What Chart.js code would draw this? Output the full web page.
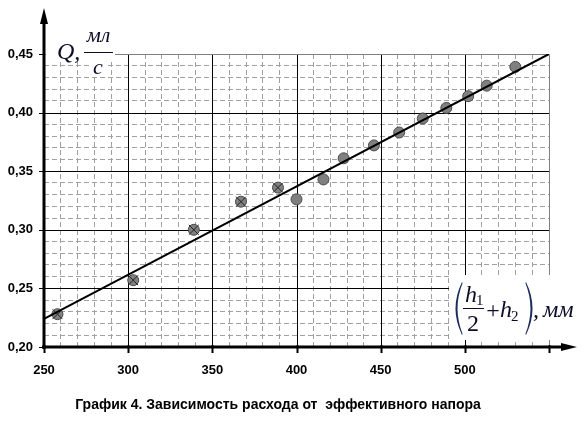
<!DOCTYPE html>
<html lang="ru">
<head>
<meta charset="utf-8">
<title>График 4</title>
<style>
  html, body { margin: 0; padding: 0; background: #fff; }
  canvas { display: block; }
</style>
</head>
<body>
<canvas id="canvas" width="586" height="427"></canvas>
<script src="https://cdn.jsdelivr.net/npm/chart.js"></script>
<script>
// effective head (mm) and flow (ml/s)
const headMm = [258, 303, 339, 367, 389, 400, 416, 428, 446, 461, 475, 489, 502, 513, 530];
const flowMl = [0.228, 0.257, 0.300, 0.324, 0.336, 0.326, 0.343, 0.361, 0.372, 0.383, 0.395, 0.404, 0.414, 0.423, 0.439];
const crossedCount = 5; // first points are drawn crossed out
// fitted straight line, end points
const fitHead = [250, 550];
const fitFlow = [0.224, 0.450];
// axis labels
const xMajor = [250, 300, 350, 400, 450, 500, 550];
const yMajor = [0.20, 0.25, 0.30, 0.35, 0.40, 0.45];
const caption = 'График 4. Зависимость расхода от  эффективного напора';

const SERIF = '"Liberation Serif", "Times New Roman", serif';
const SANS = '"Liberation Sans", Arial, sans-serif';
const INK = '#0c0c28';

const pts = headMm.map((h, i) => ({x: h, y: flowMl[i]}));
const fitPts = fitHead.map((h, i) => ({x: h, y: fitFlow[i]}));

const isMajorX = v => Math.round(v) % 50 === 0;
const isMajorY = v => Math.round(v * 100) % 5 === 0;

// thin tall bracket, dir = 1 for "(", -1 for ")"
function bracket(ctx, xEdge, top, bottom, dir) {
  const mid = (top + bottom) / 2;
  ctx.beginPath();
  ctx.moveTo(xEdge, top);
  ctx.quadraticCurveTo(xEdge - dir * 13, mid, xEdge, bottom);
  ctx.lineTo(xEdge + dir * 0.6, bottom - 1);
  ctx.quadraticCurveTo(xEdge - dir * 9.5, mid, xEdge + dir * 0.6, top + 1);
  ctx.closePath();
  ctx.fill();
}

const decor = {
  id: 'decor',
  beforeDatasetsDraw(chart) {
    const {ctx, chartArea: a, scales: {x, y}} = chart;
    ctx.save();
    ctx.lineWidth = 1;
    // major grid
    ctx.strokeStyle = '#000';
    ctx.beginPath();
    xMajor.forEach(v => {
      if (v <= 250 || v >= 550) return;
      const px = Math.round(x.getPixelForValue(v)) + 0.5;
      ctx.moveTo(px, a.top); ctx.lineTo(px, a.bottom);
    });
    yMajor.forEach(v => {
      if (v <= 0.2 || v >= 0.45) return;
      const py = Math.round(y.getPixelForValue(v)) + 0.5;
      ctx.moveTo(a.left, py); ctx.lineTo(a.right, py);
    });
    ctx.stroke();
    // frame top / right
    ctx.strokeStyle = '#808080';
    ctx.beginPath();
    const top = Math.round(y.getPixelForValue(0.45)) + 0.5;
    const right = Math.round(x.getPixelForValue(550)) + 0.5;
    ctx.moveTo(a.left, top); ctx.lineTo(right, top); ctx.lineTo(right, a.bottom);
    ctx.stroke();
    // white boxes behind the axis titles
    ctx.fillStyle = '#fff';
    ctx.fillRect(46, 20, 69, 41);
    ctx.fillRect(91, 61, 16, 16);
    ctx.fillRect(449, 275, 137, 65);
    ctx.restore();
  },
  afterDraw(chart) {
    const {ctx, chartArea: a, scales: {x, y}} = chart;
    ctx.save();
    const ax = a.left, ay = a.bottom;
    // tick marks
    ctx.strokeStyle = '#000';
    ctx.lineWidth = 1;
    ctx.beginPath();
    yMajor.forEach(v => {
      const py = Math.round(y.getPixelForValue(v)) + 0.5;
      ctx.moveTo(ax - 5, py); ctx.lineTo(ax, py);
    });
    ctx.stroke();
    ctx.lineWidth = 2;
    ctx.beginPath();
    xMajor.forEach(v => {
      const px = Math.round(x.getPixelForValue(v)) + 0.5;
      ctx.moveTo(px, ay - 2); ctx.lineTo(px, ay + 6);
    });
    ctx.stroke();
    // axes with arrows
    ctx.lineWidth = 3;
    ctx.beginPath();
    ctx.moveTo(ax, ay + 2); ctx.lineTo(ax, 18);
    ctx.moveTo(ax - 2, ay); ctx.lineTo(566, ay);
    ctx.stroke();
    ctx.fillStyle = '#000';
    ctx.beginPath();
    ctx.moveTo(ax, 8); ctx.lineTo(ax - 4, 24); ctx.lineTo(ax + 4, 24); ctx.closePath();
    ctx.moveTo(577, ay); ctx.lineTo(561, ay - 4); ctx.lineTo(561, ay + 4); ctx.closePath();
    ctx.fill();

    // y title: Q, мл/с
    ctx.fillStyle = INK;
    ctx.textBaseline = 'alphabetic';
    ctx.textAlign = 'left';
    ctx.font = 'italic 24px ' + SERIF;
    ctx.fillText('Q,', 57, 59);
    ctx.textAlign = 'center';
    ctx.font = 'italic 22px ' + SERIF;
    ctx.fillText('мл', 98.5, 42);
    ctx.fillText('с', 98, 74);
    ctx.fillRect(84, 52, 29, 1);

    // x title: (h1/2 + h2), мм
    ctx.fillStyle = '#1c2c5c';
    bracket(ctx, 462, 282, 335, 1);
    bracket(ctx, 526, 282, 335, -1);
    ctx.fillStyle = INK;
    ctx.textAlign = 'left';
    ctx.font = 'italic 24px ' + SERIF;
    const hw = ctx.measureText('h').width;
    ctx.fillText('h', 465, 302);
    ctx.fillText('h', 500, 317);
    ctx.font = '15px ' + SERIF;
    ctx.fillText('1', 465 + hw - 1, 305);
    ctx.fillText('2', 500 + hw - 1, 321);
    ctx.fillRect(463, 308, 21, 1);
    ctx.textAlign = 'center';
    ctx.font = '24px ' + SERIF;
    ctx.fillText('2', 473, 331);
    ctx.fillText('+', 493, 318);
    ctx.textAlign = 'left';
    ctx.font = 'italic 24px ' + SERIF;
    ctx.fillText(',', 533, 317);
    ctx.fillText('мм', 543, 317);

    // caption
    ctx.fillStyle = '#000';
    ctx.textAlign = 'center';
    ctx.font = 'bold 14px ' + SANS;
    ctx.fillText(caption, 278, 409);
    ctx.restore();
  }
};

new Chart(document.getElementById('canvas'), {
  type: 'scatter',
  data: {
    datasets: [
      {
        type: 'line',
        data: fitPts,
        borderColor: '#000',
        borderWidth: 2,
        pointRadius: 0,
        fill: false
      },
      {
        data: pts.slice(0, crossedCount),
        pointStyle: 'crossRot',
        pointRadius: 7,
        borderColor: '#222',
        borderWidth: 1
      },
      {
        data: pts,
        pointStyle: 'circle',
        pointRadius: 5.5,
        backgroundColor: '#808080',
        borderColor: '#4a4a4a',
        borderWidth: 1
      }
    ]
  },
  options: {
    responsive: false,
    animation: false,
    devicePixelRatio: 1,
    layout: { padding: { top: 54, right: 37, left: 0, bottom: 0 } },
    plugins: { legend: { display: false }, tooltip: { enabled: false } },
    scales: {
      x: {
        type: 'linear',
        min: 250, max: 550,
        afterFit: s => { s.height = 80; },
        border: { display: false, dash: [5, 3] },
        grid: {
          drawTicks: false,
          color: c => isMajorX(c.tick.value) ? 'rgba(0,0,0,0)' : '#a0a0a0'
        },
        ticks: {
          stepSize: 10,
          autoSkip: false,
          maxRotation: 0,
          padding: 16,
          color: '#000',
          font: { family: SANS, size: 13, weight: 'bold' },
          callback: v => (isMajorX(v) && v < 550) ? String(v) : ''
        }
      },
      y: {
        min: 0.2, max: 0.45,
        afterFit: s => { s.width = 44; },
        border: { display: false, dash: [5, 3] },
        grid: {
          drawTicks: false,
          color: c => isMajorY(c.tick.value) ? 'rgba(0,0,0,0)' : '#a0a0a0'
        },
        ticks: {
          stepSize: 0.01,
          autoSkip: false,
          padding: 11,
          color: '#000',
          font: { family: SANS, size: 13, weight: 'bold' },
          callback: v => isMajorY(v) ? (Math.round(v * 100) / 100).toFixed(2).replace('.', ',') : ''
        }
      }
    }
  },
  plugins: [decor]
});
</script>
</body>
</html>
